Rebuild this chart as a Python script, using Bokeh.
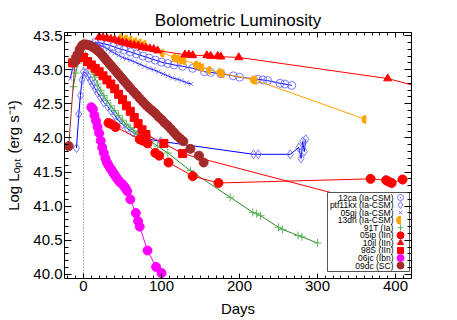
import math
from bokeh.plotting import figure
from bokeh.models import (Range1d, LinearAxis, SingleIntervalTicker, PrintfTickFormatter,
                          CustomJSTickFormatter, Span)
from bokeh.core.properties import value
from bokeh.embed import file_html
from bokeh.resources import INLINE

FONT = "Liberation Sans"

# ---------------- data (days since peak, log L) ----------------
days_12ca = [15, 22, 30, 38, 45, 52, 60, 68, 76, 84, 92, 100, 108, 116, 127, 140, 155, 163, 176, 192, 200, 223, 230, 236, 252, 258, 267]
lum_12ca = [43.40, 43.39, 43.37, 43.34, 43.31, 43.29, 43.26, 43.23, 43.20, 43.17, 43.14, 43.11, 43.09, 43.07, 43.05, 43.02, 42.97, 42.96, 42.94, 42.91, 42.89, 42.86, 42.85, 42.84, 42.80, 42.79, 42.77]

days_ptf11kx = [-9, -6, -4, -2, 0, 3, 6, 9, 12, 15, 18, 22, 26, 31, 35, 40, 45, 50, 56, 63, 69, 75, 85, 99, 218, 224, 265, 276, 279, 281, 283, 285]
lum_ptf11kx = [41.85, 42.35, 42.62, 42.85, 42.97, 42.95, 42.90, 42.84, 42.78, 42.72, 42.66, 42.59, 42.52, 42.46, 42.40, 42.33, 42.25, 42.20, 42.14, 42.08, 42.04, 42.01, 41.98, 41.95, 41.76, 41.76, 41.76, 41.86, 41.70, 41.95, 41.80, 41.98]

days_05gj = [-17, -14, -11, -8, -5, -2, 1, 4, 7, 10, 13, 16, 19, 23, 27, 31, 35, 40, 45, 50, 55, 60, 66, 72, 78, 84, 90, 96, 102, 108, 114, 120, 126, 132, 138]
lum_05gj = [42.87, 43.02, 43.15, 43.24, 43.31, 43.36, 43.39, 43.40, 43.40, 43.40, 43.39, 43.38, 43.37, 43.35, 43.33, 43.30, 43.27, 43.24, 43.21, 43.18, 43.16, 43.14, 43.11, 43.08, 43.05, 43.02, 43.00, 42.97, 42.94, 42.91, 42.88, 42.86, 42.84, 42.81, 42.79]

days_13dn = [50, 56, 62, 68, 74, 80, 103, 118, 122, 126, 131, 146, 150, 154, 163, 176, 180, 219, 222, 362]
lum_13dn = [43.47, 43.45, 43.43, 43.41, 43.39, 43.37, 43.24, 43.17, 43.16, 43.14, 43.13, 43.07, 43.05, 43.03, 42.99, 42.96, 42.94, 42.85, 42.84, 42.27]

days_91T = [-13, -10, -7, -4, -1, 2, 5, 8, 11, 14, 18, 22, 26, 30, 35, 40, 45, 50, 55, 60, 65, 70, 78, 86, 95, 108, 137, 188, 217, 222, 227, 250, 255, 275, 280, 300]
lum_91T = [42.75, 42.95, 43.10, 43.20, 43.24, 43.22, 43.16, 43.07, 42.98, 42.89, 42.79, 42.70, 42.62, 42.55, 42.47, 42.40, 42.33, 42.26, 42.20, 42.15, 42.10, 42.05, 42.00, 41.95, 41.88, 41.78, 41.52, 41.13, 40.91, 40.89, 40.86, 40.69, 40.66, 40.57, 40.55, 40.46]

days_05ip = [32, 36, 41, 72, 76, 82, 92, 97, 109, 140, 173, 368, 388, 391, 395, 409]
lum_05ip = [42.22, 42.20, 42.16, 41.98, 41.96, 41.92, 41.78, 41.74, 41.64, 41.44, 41.34, 41.40, 41.38, 41.36, 41.34, 41.39]

days_10jl = [20, 25, 30, 35, 40, 45, 50, 55, 60, 65, 70, 75, 80, 85, 90, 95, 130, 135, 140, 158, 163, 172, 176, 199, 390, 480]
lum_10jl = [43.48, 43.47, 43.46, 43.45, 43.44, 43.42, 43.40, 43.39, 43.37, 43.36, 43.35, 43.33, 43.32, 43.31, 43.30, 43.28, 43.22, 43.22, 43.21, 43.21, 43.20, 43.20, 43.19, 43.18, 42.87, 42.60]

days_98S = [-14, -10, -5, 0, 5, 10, 15, 20, 25, 30, 35, 40, 45, 50, 55, 60, 65, 70, 75, 80, 103, 127, 460]
lum_98S = [43.10, 43.15, 43.19, 43.18, 43.12, 43.07, 43.02, 42.97, 42.91, 42.85, 42.79, 42.72, 42.64, 42.56, 42.47, 42.39, 42.30, 42.21, 42.12, 42.05, 41.92, 41.77, 40.77]

days_06jc = [10, 12, 14, 16, 18, 20, 22, 24, 26, 28, 30, 32, 34, 36, 38, 40, 42, 44, 46, 48, 50, 52, 54, 56, 60, 67, 70, 72, 82, 93, 100]
lum_06jc = [42.45, 42.42, 42.33, 42.25, 42.16, 42.07, 41.96, 41.86, 41.78, 41.70, 41.64, 41.60, 41.56, 41.53, 41.49, 41.46, 41.42, 41.39, 41.36, 41.34, 41.32, 41.29, 41.26, 41.22, 41.10, 40.90, 40.78, 40.70, 40.35, 40.11, 40.02]

days_09dc = [-19, -11, -8, -5, -2, 0, 3, 6, 9, 12, 15, 18, 21, 24, 27, 30, 33, 36, 39, 42, 45, 48, 51, 54, 57, 60, 64, 68, 72, 76, 80, 84, 88, 92, 96, 100, 104, 108, 112, 116, 120, 124, 128, 137, 148, 154]
lum_09dc = [41.88, 43.12, 43.22, 43.30, 43.35, 43.37, 43.37, 43.36, 43.35, 43.33, 43.31, 43.28, 43.25, 43.21, 43.17, 43.13, 43.09, 43.05, 43.01, 42.97, 42.93, 42.89, 42.85, 42.81, 42.77, 42.73, 42.68, 42.63, 42.58, 42.53, 42.48, 42.44, 42.40, 42.36, 42.31, 42.27, 42.22, 42.18, 42.13, 42.08, 42.03, 41.99, 41.95, 41.84, 41.74, 41.64]

names = ["12ca (Ia-CSM)", "ptf11kx (Ia-CSM)", "05gj (Ia-CSM)", "13dn (Ia-CSM)", "91T (Ia)",
         "05ip (IIn)", "10jl (IIn)", "98S (IIn)", "06jc (Ibn)", "09dc (SC)"]
x_ticks_step = 100
y_ticks_step = 0.5

# ---------------- styles ----------------
BLUE = "#0000ff"
BLUE_M = "#6a6aff"
ORANGE = "#ffa500"
GREEN_L = "#2e8b2e"
GREEN_M = "#5cb85c"
RED = "#ff0000"
MAGENTA = "#ff00ff"
BROWN = "#a52a2a"

series = [
    (days_12ca, lum_12ca, BLUE, dict(marker="circle", size=8, fill_color=None, line_color=BLUE_M, line_width=0.9)),
    (days_ptf11kx, lum_ptf11kx, BLUE, dict(marker="diamond", size=9, fill_color=None, line_color=BLUE_M, line_width=0.9)),
    (days_05gj, lum_05gj, BLUE, dict(marker="x", size=6, line_color=BLUE_M, line_width=0.9)),
    (days_13dn, lum_13dn, ORANGE, "wedge"),
    (days_91T, lum_91T, GREEN_L, dict(marker="cross", size=8, line_color=GREEN_M, line_width=1)),
    (days_05ip, lum_05ip, RED, dict(marker="circle", size=9, fill_color=RED, line_color=RED)),
    (days_10jl, lum_10jl, RED, dict(marker="triangle", size=8, fill_color=RED, line_color=RED)),
    (days_98S, lum_98S, RED, dict(marker="square", size=8, fill_color=RED, line_color=RED)),
    (days_06jc, lum_06jc, MAGENTA, dict(marker="circle", size=9, fill_color=MAGENTA, line_color=MAGENTA)),
    (days_09dc, lum_09dc, BROWN, dict(marker="circle", size=9, fill_color=BROWN, line_color=BROWN)),
]

# ---------------- figure ----------------
W, H = 457, 320
BL, BR, BT, BB = 64, 46, 32, 42
FW, FH = W - BL - BR, H - BT - BB
X0, X1 = -24.4, 420.5
Y0, Y1 = 39.94, 43.545

p = figure(width=W, height=H, output_backend="svg", toolbar_location=None,
           x_range=Range1d(X0, X1), y_range=Range1d(Y0, Y1),
           x_axis_type=None, y_axis_type=None,
           title="Bolometric Luminosity",
           min_border_left=BL, min_border_right=BR, min_border_top=BT, min_border_bottom=BB)
p.outline_line_color = None
p.background_fill_color = "white"
p.border_fill_color = "white"
p.title.align = "center"
p.title.text_font = FONT
p.title.text_font_size = "17px"
p.title.text_font_style = "normal"
p.title.text_color = "black"
p.title.standoff = 5
p.title.offset = 0


def add_axis(place, interval, minor, fmt, tin, tmin, show, label=None, standoff=0, label_standoff=0):
    ax = LinearAxis(ticker=SingleIntervalTicker(interval=interval, num_minor_ticks=minor),
                    formatter=fmt if show else CustomJSTickFormatter(code="return ''"),
                    major_tick_in=tin, major_tick_out=0, minor_tick_in=tmin, minor_tick_out=0,
                    axis_line_color="black", axis_line_width=1,
                    major_tick_line_color="black", minor_tick_line_color="black",
                    major_label_text_font=FONT, major_label_text_font_size="15px" if show else "0px",
                    major_label_text_color="black",
                    major_label_standoff=standoff)
    if label is not None:
        ax.axis_label = label
        ax.axis_label_text_font = FONT
        ax.axis_label_text_font_size = "15px"
        ax.axis_label_text_font_style = "normal"
        ax.axis_label_text_color = "black"
        ax.axis_label_standoff = label_standoff
    p.add_layout(ax, place)


add_axis("below", x_ticks_step, 10, PrintfTickFormatter(format="%d"), 5, 3, True, "Days", 2, 6)
add_axis("above", x_ticks_step, 10, None, 5, 3, False)
add_axis("left", y_ticks_step, 5, PrintfTickFormatter(format="%.1f"), 7, 4, True,
         "Log L\u2092\u209a\u209c (erg s\u207b\u00b9)", 2, 8)
add_axis("right", y_ticks_step, 5, None, 7, 4, False)

zero_line = Span(location=0, dimension="height", line_color="#666666", line_dash="1 2", line_width=1)
zero_line.level = "underlay"
p.add_layout(zero_line)


def draw_markers(style, color, xs, ys):
    if style == "wedge":
        p.wedge(x=xs, y=ys, radius=4, radius_units="screen", start_angle=math.pi / 2,
                end_angle=3 * math.pi / 2, fill_color=color, line_color=color)
    else:
        p.scatter(x=xs, y=ys, **style)


for xs, ys, col, style in series:
    p.line(xs, ys, line_color=col, line_width=1)
    draw_markers(style, col, xs, ys)


# ---------------- legend (drawn manually: labels left, symbols right) ----------------
def fx(px):
    return X0 + px / FW * (X1 - X0)


def fy(py):
    return Y1 - py / FH * (Y1 - Y0)


p.quad(left=[fx(263)], right=[fx(345)], top=[fy(160)], bottom=[fy(239)],
       fill_color="white", line_color="#555555", line_width=1)
row_y = [fy(165 + 7.56 * i) for i in range(len(names))]
p.text(x=[fx(329)] * len(names), y=row_y, text=names, text_font=value(FONT),
       text_font_size="8.5px", text_align="right", text_baseline="middle", text_color="black")
for i, (xs, ys, col, style) in enumerate(series):
    if style == "wedge":
        draw_markers(style, col, [fx(336)], [row_y[i]])
    else:
        st = dict(style)
        st["size"] = max(5, st["size"] - 2)
        if st["marker"] == "circle" and st.get("fill_color") is None:
            st["marker"] = "circle_dot"
        draw_markers(st, col, [fx(336)], [row_y[i]])

open("out.html", "w").write(file_html(p, INLINE))
